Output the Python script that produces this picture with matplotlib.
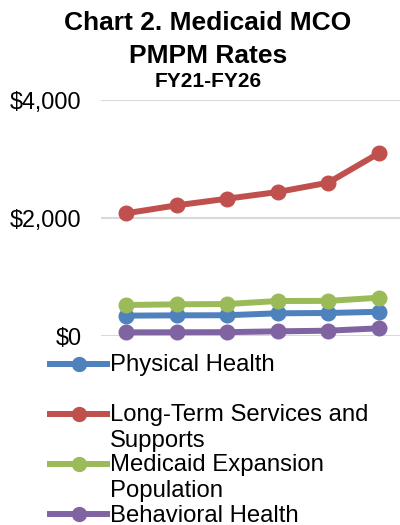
import matplotlib
matplotlib.use("Agg")
from matplotlib import pyplot as plt
from matplotlib.lines import Line2D
from matplotlib.ticker import FuncFormatter

# Chart 2. Medicaid MCO PMPM rates, FY21-FY26

years = ["FY21", "FY22", "FY23", "FY24", "FY25", "FY26"]
physical = [345, 350, 352, 385, 390, 410]
ltss = [2080, 2215, 2327, 2441, 2599, 3097]
expansion = [525, 537, 542, 593, 595, 649]
behavioral = [62, 63, 65, 79, 90, 130]

names = ["Physical Health", "Long-Term Services and\nSupports",
         "Medicaid Expansion\nPopulation", "Behavioral Health"]
colors = ["#4F81BD", "#C0504D", "#9BBB59", "#8064A2"]
series = [physical, ltss, expansion, behavioral]

plt.rcParams['font.family'] = ['Liberation Sans', 'DejaVu Sans']

W, H = 400, 525
fig = plt.figure(figsize=(W / 100, H / 100), dpi=100)

def fx(px):
    return px / W

def fy(py):
    return 1 - py / H

# plot area
ax = fig.add_axes([fx(101), fy(336), 1 - fx(101), (336 - 100) / H])
x = list(range(len(years)))
for vals, c in zip(series, colors):
    ax.plot(x, vals, color=c, lw=4.3, marker="o", ms=10.5, clip_on=False, zorder=3)

ax.set_ylim(0, 4000)
ax.set_xlim(-0.5, 5.42)
ax.set_yticks([0, 2000, 4000])
ax.yaxis.set_major_formatter(FuncFormatter(lambda v, p: "${:,.0f}".format(v)))
ax.set_xticks([])
ax.tick_params(axis="y", length=0, pad=14, labelsize=16.8)
ax.grid(axis="y", color="#d9d9d9", lw=1.5)
ax.set_axisbelow(True)
for s in ax.spines.values():
    s.set_visible(False)

# titles
fig.text(fx(208), fy(30), "Chart 2. Medicaid MCO", ha="center", va="baseline",
         fontsize=19, fontweight="bold")
fig.text(fx(208), fy(63), "PMPM Rates", ha="center", va="baseline",
         fontsize=19, fontweight="bold")
fig.text(fx(208), fy(87), "FY21-FY26", ha="center", va="baseline",
         fontsize=15, fontweight="bold")

# legend, drawn by hand to keep Excel's spacing
for i, (name, c) in enumerate(zip(names, colors)):
    yc = 364 + 50 * i
    fig.add_artist(Line2D([fx(50), fx(107)], [fy(yc), fy(yc)], color=c, lw=4.3,
                          transform=fig.transFigure))
    fig.add_artist(Line2D([fx(78.5)], [fy(yc)], color=c, marker="o", ms=10,
                          transform=fig.transFigure))
    for j, line in enumerate(name.split("\n")):
        fig.text(fx(110), fy(yc + 7.5 + 25 * j), line, ha="left", va="baseline",
                 fontsize=17.2)

fig.savefig("out.png", dpi=100)
